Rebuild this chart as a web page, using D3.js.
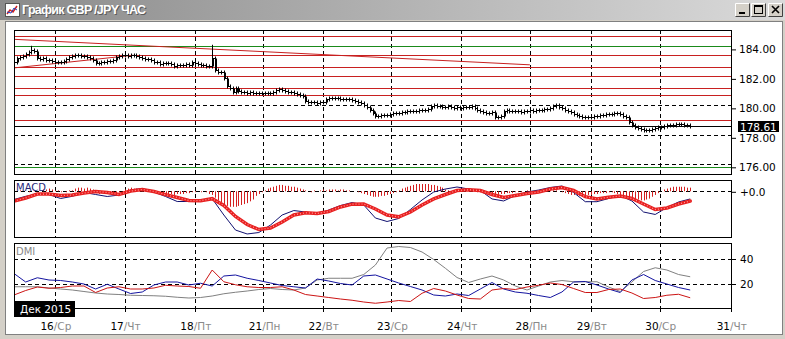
<!DOCTYPE html>
<html>
<head>
<meta charset="utf-8">
<script src="https://cdnjs.cloudflare.com/ajax/libs/d3/7.8.5/d3.min.js"></script>
<style>
body { margin: 0; background: #d4d0c8; }
text { font-family: "DejaVu Sans", Verdana, sans-serif; font-size: 10.5px; }
</style>
</head>
<body>
<div id="vizContainer"></div>
<script>
let w = 785;
let h = 339;

// day separators (bar index) and their labels
let dayTicks = [14, 38, 62, 85.5, 106, 129.5, 153.5, 177, 198, 221.5, 246];
let dayNums = ["16", "17", "18", "21", "22", "23", "24", "28", "29", "30", "31"];
let dayNames = ["Ср", "Чт", "Пт", "Пн", "Вт", "Ср", "Чт", "Пн", "Вт", "Ср", "Чт"];

// hourly closes GBP/JPY
let closes = [
	182.96,183.23,183.30,183.36,183.50,183.63,183.77,183.70,183.23,183.16,
	183.23,183.09,183.09,183.02,182.96,182.92,182.96,183.02,183.16,183.30,
	183.36,183.43,183.43,183.36,183.36,183.30,183.23,183.09,182.89,182.89,
	182.96,182.96,183.02,183.02,183.09,183.30,183.36,183.43,183.43,183.36,
	183.43,183.43,183.36,183.30,183.23,183.16,183.16,183.09,182.96,182.96,
	182.82,182.89,182.89,182.89,182.82,182.68,182.75,182.75,182.75,182.82,
	182.75,182.96,182.89,182.82,182.75,182.75,182.68,182.68,183.23,182.41,
	182.28,182.28,181.87,181.33,181.19,180.92,181.19,180.99,180.92,180.92,
	180.85,180.92,180.85,180.85,180.85,180.85,180.85,180.85,180.85,180.92,
	181.05,181.12,181.05,180.99,180.92,180.92,180.85,180.78,180.72,180.65,
	180.31,180.24,180.24,180.24,180.17,180.24,180.24,180.44,180.51,180.51,
	180.51,180.51,180.44,180.44,180.44,180.44,180.38,180.31,180.24,180.17,
	180.04,179.90,179.70,179.49,179.29,179.29,179.36,179.36,179.36,179.43,
	179.49,179.49,179.49,179.56,179.56,179.63,179.63,179.63,179.63,179.70,
	179.70,179.70,179.77,179.97,180.04,179.97,179.97,179.90,179.90,179.97,
	179.90,179.83,179.90,179.83,179.90,179.90,179.90,179.97,179.83,179.70,
	179.63,179.56,179.49,179.49,179.56,179.22,179.22,179.29,179.63,179.70,
	179.63,179.63,179.63,179.63,179.56,179.63,179.63,179.70,179.63,179.70,
	179.70,179.70,179.77,179.77,179.83,179.97,180.04,179.90,179.83,179.70,
	179.63,179.56,179.43,179.36,179.29,179.22,179.22,179.22,179.22,179.29,
	179.29,179.36,179.36,179.43,179.43,179.43,179.49,179.49,179.43,179.29,
	179.22,178.88,178.68,178.54,178.48,178.41,178.34,178.34,178.34,178.41,
	178.48,178.54,178.54,178.61,178.64,178.68,178.68,178.71,178.75,178.71,
	178.68,178.64,178.61
];
let wickHighs = [[6, 184.04], [68, 184.11]];
let lastPrice = 178.61;
let priceTicks = [176, 178, 180, 182, 184];

let redLevels = [184.72, 183.40, 182.61, 182.00, 181.21, 180.69, 179.02];
let greenLevels = [184.00, 175.80];
// [bar1, price1, bar2, price2]
let trendLines = [[0, 184.48, 177, 182.75], [0, 182.54, 41, 183.40]];

// indicators, one value every 4 bars
let macdLine = [
	-0.090,-0.055,-0.030,-0.035,-0.079,-0.055,-0.013,-0.035,-0.057,-0.041,
	0.014,0.031,-0.008,-0.057,-0.112,-0.112,-0.110,-0.081,-0.260,-0.425,
	-0.468,-0.452,-0.370,-0.260,-0.211,-0.227,-0.249,-0.205,-0.156,-0.123,
	-0.150,-0.293,-0.331,-0.298,-0.200,-0.095,-0.008,0.025,0.047,0.025,
	0.009,-0.084,-0.106,-0.046,-0.008,0.014,0.042,0.058,-0.013,-0.114,
	-0.114,-0.079,-0.046,-0.106,-0.227,-0.254,-0.178,-0.117,-0.084
];
let macdSignal = [
	-0.106,-0.073,-0.030,-0.030,-0.046,-0.041,-0.019,-0.002,-0.013,-0.035,
	0.003,0.020,-0.002,-0.037,-0.068,-0.101,-0.103,-0.081,-0.156,-0.276,
	-0.364,-0.419,-0.402,-0.337,-0.260,-0.235,-0.243,-0.221,-0.172,-0.141,
	-0.139,-0.194,-0.260,-0.280,-0.227,-0.150,-0.084,-0.035,0.009,0.016,
	0.009,-0.035,-0.068,-0.046,-0.024,-0.008,0.025,0.042,0.009,-0.059,
	-0.084,-0.065,-0.052,-0.079,-0.139,-0.200,-0.183,-0.139,-0.106
];
// histogram, one value per bar
let macdHist = [
	0,0,0.01,0,0,-0.01,0,0.01,0,0,
	0.02,0.02,0.03,0.02,0.01,
	0.01,-0.01,0,-0.01,0.01,0.01,
	0.03,0.04,0.04,0.03,0.04,0.03,0.02,
	-0.02,-0.03,-0.02,-0.03,-0.02,-0.02,-0.01,-0.02,-0.01,0,
	0.02,0.03,0.04,0.03,0.03,0.02,
	0.02,0.01,0.02,0.01,0.01,0,0,
	-0.02,-0.03,-0.03,-0.03,-0.04,-0.03,-0.03,-0.03,-0.02,-0.02,
	-0.01,-0.01,0,-0.01,0,-0.01,
	-0.03,-0.04,-0.07,-0.10,-0.12,-0.14,-0.16,-0.17,-0.17,-0.17,-0.16,-0.15,-0.14,-0.13,-0.11,-0.09,-0.05,-0.03,-0.01,
	0.01,0.03,0.04,0.05,
	0.06,0.07,0.07,0.06,0.06,0.05,0.05,0.04,0.03,0.02,
	0.01,0,-0.01,0.01,0,0.01,
	0.02,0.01,0.02,0.02,0.02,0.01,0.02,0.02,0.01,0.01,0,0,
	-0.01,-0.02,-0.03,-0.04,-0.05,-0.06,-0.06,-0.06,-0.05,-0.05,-0.04,
	-0.03,-0.02,-0.01,0.01,
	0.03,0.04,0.05,0.06,0.07,0.08,0.08,0.08,0.08,0.08,0.07,0.07,0.06,0.05,0.04,
	0.02,0.01,-0.01,-0.01,0,
	0.01,0.01,0,0.01,0.01,0,-0.01,-0.01,
	-0.02,-0.03,-0.03,-0.04,-0.04,-0.04,-0.03,-0.03,-0.02,-0.02,-0.02,-0.01,-0.01,-0.01,0,
	0.01,0.01,0,0.01,0.01,0.01,0.02,0.01,0.01,0.01,0.01,
	0,-0.01,-0.02,-0.03,-0.04,-0.04,-0.05,-0.05,-0.05,-0.05,-0.04,-0.04,
	-0.03,-0.03,-0.02,-0.02,-0.02,-0.01,-0.01,
	-0.02,-0.03,-0.04,-0.05,-0.06,-0.07,-0.08,-0.09,-0.09,-0.10,-0.10,-0.09,-0.08,-0.06,-0.04,
	-0.02,0,
	0.02,0.03,0.04,0.05,0.05,0.05,0.05,0.05,0.04,0.04
];
let diPlus = [
	28.0,21.2,24.6,22.8,22.4,21.2,19.6,15.6,19.4,15.6,
	12.0,13.2,18.8,21.2,21.2,18.8,20.2,18.0,26.0,26.8,
	24.2,22.4,20.4,18.4,17.4,16.4,23.6,22.0,20.0,18.8,
	26.0,26.8,23.6,20.4,17.6,14.8,10.8,10.0,11.6,10.4,
	15.6,20.8,15.6,13.2,12.2,10.4,8.8,13.2,21.2,21.6,
	18.8,15.6,12.8,22.8,27.2,22.4,19.6,16.8,14.8
];
let diMinus = [
	10.8,14.4,17.2,16.2,16.8,18.0,18.0,12.8,16.4,17.4,
	15.6,15.6,16.4,18.6,18.0,17.6,16.2,30.8,21.4,19.0,
	17.4,16.8,16.8,17.4,14.8,11.2,10.0,8.8,7.6,6.6,
	5.2,4.2,5.2,6.4,5.6,12.2,16.0,14.0,10.8,8.0,
	7.6,14.8,16.0,15.2,17.2,18.6,20.4,19.2,16.0,12.8,
	12.8,15.2,15.6,12.4,8.0,8.8,10.6,11.4,8.6
];
let adx = [
	17.4,17.4,17.4,16.4,15.6,14.8,13.6,12.4,11.6,11.2,
	10.6,10.4,10.2,9.8,9.0,8.4,8.8,10.0,11.8,13.0,
	14.0,15.2,16.0,15.2,14.8,16.4,22.8,24.2,24.2,24.2,
	27.2,34.8,48.4,49.6,48.8,45.2,39.2,32.2,24.8,20.8,
	23.6,26.0,22.8,18.0,14.8,18.0,21.2,22.4,21.4,21.4,
	21.4,17.2,13.6,21.2,29.6,32.6,30.8,27.2,25.4
];
let dmiTicks = [20, 40];
let sampleIdx = d3.range(0, closes.length, 4);

let viz = d3.select('#vizContainer').append('svg')
	.attr('width', w)
	.attr('height', h)
	;

let defs = viz.append('defs');
let grad = defs.append('linearGradient').attr('id', 'titleGrad');
grad.append('stop').attr('offset', '0%').attr('stop-color', '#8a8a8a');
grad.append('stop').attr('offset', '100%').attr('stop-color', '#dadada');

// window chrome
viz.append('rect').attr('width', w).attr('height', h).attr('fill', '#d4d0c8');
viz.append('rect').attr('x', 0).attr('y', 0).attr('width', w).attr('height', 20).attr('fill', 'url(#titleGrad)');
viz.append('rect').attr('x', 5.5).attr('y', 21.5).attr('width', 777).attr('height', 313)
	.attr('fill', 'white').attr('stroke', '#808080');

let icon = viz.append('g').attr('transform', 'translate(5,3)');
icon.append('rect').attr('x', 0.5).attr('y', 0.5).attr('width', 14).attr('height', 13).attr('fill', 'white').attr('stroke', '#555');
icon.append('polyline').attr('points', '2,11 5,7 8,9 12,3').attr('fill', 'none').attr('stroke', '#d02020').attr('stroke-width', 1.5);
icon.append('polyline').attr('points', '2,9 6,10 9,5 12,7').attr('fill', 'none').attr('stroke', '#2040c0').attr('stroke-width', 1);

viz.append('text').attr('x', 23).attr('y', 15)
	.style('font-family', '"Liberation Sans", Arial, sans-serif').style('font-size', '12.5px').style('font-weight', 'bold')
	.attr('fill', '#5a5a5a').attr('textLength', 124)
	.text('График GBP /JPY ЧАС');
viz.append('text').attr('x', 22).attr('y', 14)
	.style('font-family', '"Liberation Sans", Arial, sans-serif').style('font-size', '12.5px').style('font-weight', 'bold')
	.attr('fill', 'white').attr('textLength', 124)
	.text('График GBP /JPY ЧАС');

function drawButton(bx, kind){
	let b = viz.append('g').attr('transform', 'translate(' + bx + ',3)');
	b.append('rect').attr('width', 15).attr('height', 14).attr('fill', '#d4d0c8');
	b.append('path').attr('d', 'M0.5 13.5 V0.5 H14.5').attr('fill', 'none').attr('stroke', 'white');
	b.append('path').attr('d', 'M0.5 13.5 H14.5 V0.5').attr('fill', 'none').attr('stroke', '#404040');
	if (kind == 'min') {
		b.append('rect').attr('x', 4).attr('y', 9).attr('width', 6).attr('height', 2).attr('fill', 'black');
	} else if (kind == 'max') {
		b.append('rect').attr('x', 3.5).attr('y', 2.5).attr('width', 8).attr('height', 8).attr('fill', 'none').attr('stroke', 'black');
		b.append('rect').attr('x', 3.5).attr('y', 2.5).attr('width', 8).attr('height', 1.5).attr('fill', 'black');
	} else {
		b.append('path').attr('d', 'M4 3 L11 10 M11 3 L4 10').attr('stroke', 'black').attr('stroke-width', 1.6);
	}
}
drawButton(735, 'min');
drawButton(751, 'max');
drawButton(768, 'close');

// scales
let left = 14;
let right = 731;
let xScale = d3.scaleLinear().domain([0, 246]).range([left, right]);
let yPrice = d3.scaleLinear().domain([176, 184]).range([164.3, 46.4]);
let yMacd = d3.scaleLinear().domain([0, -0.5]).range([191.3, 236.9]);
let yDmi = d3.scaleLinear().domain([0, 40]).range([308.5, 258.5]);

let panels = [
	{id: 'price', top: 30, bottom: 174},
	{id: 'macd', top: 180, bottom: 237},
	{id: 'dmi', top: 243, bottom: 308}
];

let groups = {};
panels.forEach(function(p){
	defs.append('clipPath').attr('id', 'clip-' + p.id)
		.append('rect').attr('x', left).attr('y', p.top).attr('width', right - left).attr('height', p.bottom - p.top);
	let g = viz.append('g').attr('class', p.id);
	g.append('g').attr('class', 'vgrid').selectAll('line').data(dayTicks.slice(0, -1)).enter().append('line')
		.attr('x1', function(d){ return Math.round(xScale(d)) + 0.5; })
		.attr('x2', function(d){ return Math.round(xScale(d)) + 0.5; })
		.attr('y1', p.top).attr('y2', p.bottom)
		.attr('stroke', 'black').attr('stroke-dasharray', '4,3');
	groups[p.id] = g.append('g').attr('clip-path', 'url(#clip-' + p.id + ')');
	p.g = g;
});

// price panel
let pg = groups.price;
pg.selectAll('.grid').data(priceTicks).enter().append('line')
	.attr('x1', left).attr('x2', right)
	.attr('y1', function(d){ return Math.round(yPrice(d)) + 0.5; })
	.attr('y2', function(d){ return Math.round(yPrice(d)) + 0.5; })
	.attr('stroke', 'black').attr('stroke-dasharray', '4,3');

pg.selectAll('.green').data(greenLevels).enter().append('line')
	.attr('x1', left).attr('x2', right)
	.attr('y1', function(d){ return Math.round(yPrice(d)) + 0.5; })
	.attr('y2', function(d){ return Math.round(yPrice(d)) + 0.5; })
	.attr('stroke', '#1a8a1a');

pg.selectAll('.level').data(redLevels).enter().append('line')
	.attr('x1', left).attr('x2', right)
	.attr('y1', function(d){ return Math.round(yPrice(d)) + 0.5; })
	.attr('y2', function(d){ return Math.round(yPrice(d)) + 0.5; })
	.attr('stroke', '#c82020');

pg.selectAll('.trend').data(trendLines).enter().append('line')
	.attr('x1', function(d){ return xScale(d[0]); })
	.attr('y1', function(d){ return yPrice(d[1]); })
	.attr('x2', function(d){ return xScale(d[2]); })
	.attr('y2', function(d){ return yPrice(d[3]); })
	.attr('stroke', '#c82020');

pg.append('line')
	.attr('x1', left).attr('x2', right)
	.attr('y1', Math.round(yPrice(lastPrice)) + 0.5).attr('y2', Math.round(yPrice(lastPrice)) + 0.5)
	.attr('stroke', 'black');

let wickMap = {};
wickHighs.forEach(function(d){ wickMap[d[0]] = d[1]; });

pg.selectAll('.bar').data(closes).enter().append('path')
	.attr('class', 'bar')
	.attr('d', function(c, i){
		let o = i > 0 ? closes[i - 1] : c;
		let px = Math.round(xScale(i)) + 0.5;
		let yO = Math.round(yPrice(o)) + 0.5;
		let yC = Math.round(yPrice(c)) + 0.5;
		let yHi = Math.min(yO, yC) - 2;
		let yLo = Math.max(yO, yC) + 2;
		if (wickMap[i] !== undefined) yHi = yPrice(wickMap[i]);
		let s = 'M' + px + ' ' + yHi + 'V' + yLo
			+ 'M' + (px - 2) + ' ' + yO + 'H' + px
			+ 'M' + px + ' ' + yC + 'H' + (px + 2);
		if (Math.abs(o - c) > 0.15) s += 'M' + (px + 1) + ' ' + Math.min(yO, yC) + 'V' + Math.max(yO, yC);
		return s;
	})
	.attr('fill', 'none').attr('stroke', 'black');

// macd panel
let mg = groups.macd;
mg.append('line')
	.attr('x1', left).attr('x2', right)
	.attr('y1', Math.round(yMacd(0)) + 0.5).attr('y2', Math.round(yMacd(0)) + 0.5)
	.attr('stroke', 'black').attr('stroke-dasharray', '4,3');

mg.selectAll('.histbar').data(macdHist.map(function(d, i){ return [i, d]; }).filter(function(d){ return d[1] != 0; }))
	.enter().append('line')
	.attr('class', 'histbar')
	.attr('x1', function(d){ return Math.round(xScale(d[0])) + 0.5; })
	.attr('x2', function(d){ return Math.round(xScale(d[0])) + 0.5; })
	.attr('y1', yMacd(0))
	.attr('y2', function(d){ return yMacd(d[1]); })
	.attr('stroke', '#d42020');

let macdGen = d3.line()
	.x(function(d, i){ return xScale(sampleIdx[i]); })
	.y(function(d){ return yMacd(d); });

mg.append('path').datum(macdLine).attr('d', macdGen)
	.attr('fill', 'none').attr('stroke', '#101070').attr('stroke-width', 1);
mg.append('path').datum(macdSignal).attr('d', macdGen)
	.attr('fill', 'none').attr('stroke', '#e82020').attr('stroke-width', 3.5).attr('stroke-linecap', 'round');
mg.append('path').datum(macdSignal).attr('d', macdGen)
	.attr('fill', 'none').attr('stroke', '#ff9a9a').attr('stroke-width', 1.2).attr('stroke-dasharray', '1,2');

// dmi panel
let dg = groups.dmi;
dg.selectAll('.grid').data(dmiTicks).enter().append('line')
	.attr('x1', left).attr('x2', right)
	.attr('y1', function(d){ return Math.round(yDmi(d)) + 0.5; })
	.attr('y2', function(d){ return Math.round(yDmi(d)) + 0.5; })
	.attr('stroke', 'black').attr('stroke-dasharray', '4,3');

let dmiGen = d3.line()
	.x(function(d, i){ return xScale(sampleIdx[i]); })
	.y(function(d){ return yDmi(d); });

dg.append('path').datum(adx).attr('d', dmiGen).attr('fill', 'none').attr('stroke', '#808080');
dg.append('path').datum(diPlus).attr('d', dmiGen).attr('fill', 'none').attr('stroke', '#1414a0');
dg.append('path').datum(diMinus).attr('d', dmiGen).attr('fill', 'none').attr('stroke', '#cc1414');

// panel borders
panels.forEach(function(p){
	p.g.append('rect')
		.attr('x', left + 0.5).attr('y', p.top + 0.5)
		.attr('width', right - left).attr('height', p.bottom - p.top)
		.attr('fill', 'none').attr('stroke', 'black');
});

// labels inside panels
viz.append('text').attr('x', 16).attr('y', 191).style('font-size', '10px').attr('fill', '#28287a').text('MACD');
viz.append('text').attr('x', 16).attr('y', 254.5).style('font-size', '10px').attr('fill', '#888').text('DMI');

// right axes
let priceAxis = d3.axisRight(yPrice).tickValues(priceTicks).tickFormat(d3.format('.2f')).tickSize(4).tickPadding(3);
viz.append('g').attr('transform', 'translate(' + (right + 1) + ',3)').call(priceAxis)
	.call(function(g){ g.select('.domain').remove(); })
	.call(function(g){ g.selectAll('text').style('font-size', '10.5px').attr('fill', 'black'); });

let macdAxis = d3.axisRight(yMacd).tickValues([0]).tickFormat(function(){ return '+0.0'; }).tickSize(4).tickPadding(4);
viz.append('g').attr('transform', 'translate(' + (right + 1) + ',0.5)').call(macdAxis)
	.call(function(g){ g.select('.domain').remove(); })
	.call(function(g){ g.selectAll('text').style('font-size', '10.5px').attr('fill', 'black'); });

let dmiAxis = d3.axisRight(yDmi).tickValues(dmiTicks).tickSize(4).tickPadding(4);
viz.append('g').attr('transform', 'translate(' + (right + 1) + ',0.5)').call(dmiAxis)
	.call(function(g){ g.select('.domain').remove(); })
	.call(function(g){ g.selectAll('text').style('font-size', '10.5px').attr('fill', 'black'); });

// last price box
let lp = Math.round(yPrice(lastPrice)) + 0.5;
viz.append('rect').attr('x', 738).attr('y', lp - 5.5).attr('width', 41).attr('height', 11).attr('fill', 'black');
viz.append('text').attr('x', 740).attr('y', lp + 4).attr('fill', 'white').text(d3.format('.2f')(lastPrice));

// bottom date axis
let dateAxis = viz.append('g');
dateAxis.selectAll('.tick').data(dayTicks).enter().append('line')
	.attr('x1', function(d){ return Math.round(xScale(d)) + 0.5; })
	.attr('x2', function(d){ return Math.round(xScale(d)) + 0.5; })
	.attr('y1', 308).attr('y2', 312)
	.attr('stroke', 'black');
dateAxis.selectAll('.num').data(dayTicks).enter().append('text')
	.attr('x', function(d){ return xScale(d) - 1; })
	.attr('y', 329.5)
	.attr('text-anchor', 'end')
	.attr('fill', 'black')
	.text(function(d, i){ return dayNums[i]; });
dateAxis.selectAll('.dname').data(dayTicks).enter().append('text')
	.attr('x', function(d){ return xScale(d) - 1; })
	.attr('y', 329.5)
	.attr('fill', '#8a8a8a')
	.text(function(d, i){ return '/' + dayNames[i]; });

viz.append('rect').attr('x', 14).attr('y', 301).attr('width', 61).attr('height', 16).attr('fill', 'black');
viz.append('text').attr('x', 20).attr('y', 313).attr('fill', 'white').text('Дек 2015');
</script>
</body>
</html>
